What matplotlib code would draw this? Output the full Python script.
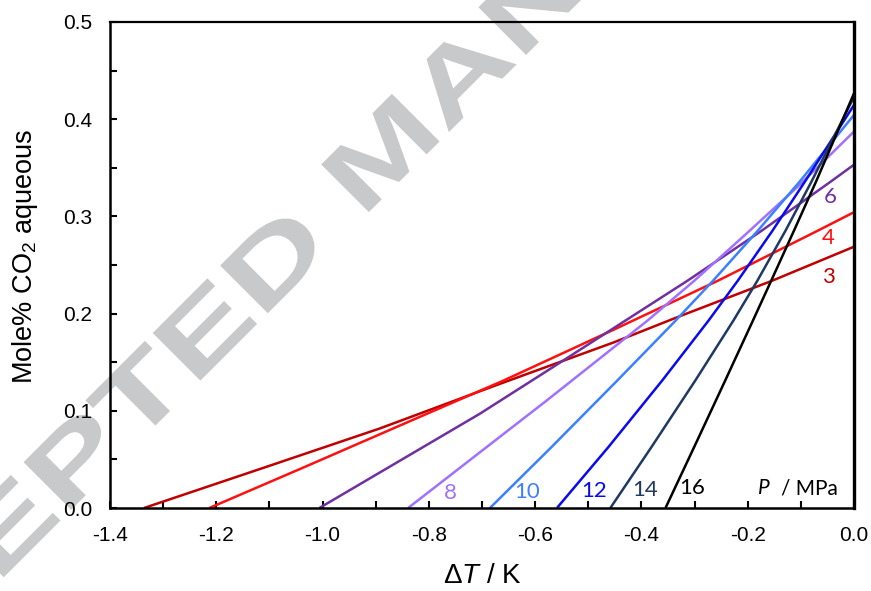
import matplotlib
matplotlib.use("Agg")
import matplotlib.pyplot as plt
from matplotlib.ticker import MultipleLocator, FormatStrFormatter
from matplotlib.patheffects import AbstractPathEffect
from matplotlib.transforms import Affine2D

plt.rcParams['font.family'] = ['Liberation Sans', 'DejaVu Sans']
plt.rcParams['axes.unicode_minus'] = False
plt.rcParams['mathtext.fontset'] = 'custom'
plt.rcParams['mathtext.rm'] = 'Liberation Sans'
plt.rcParams['mathtext.it'] = 'Liberation Sans:italic'


class HStretch(AbstractPathEffect):
    """Draw text glyphs stretched along their baseline (wide watermark lettering)."""
    def __init__(self, sx):
        super().__init__()
        self.sx = sx

    def draw_path(self, renderer, gc, tpath, affine, rgbFace=None):
        renderer.draw_path(gc, tpath, Affine2D().scale(self.sx, 1.0) + affine, rgbFace)


# ---- data ----
pressures = ["3", "4", "6", "8", "10", "12", "14", "16"]

x3 = [-1.336, -1.106, -0.893, -0.666, -0.452, -0.326, -0.155, 0.0]
y3 = [0.0, 0.0423, 0.0817, 0.1278, 0.1704, 0.1977, 0.2336, 0.2688]

x4 = [-1.213, -1.043, -0.792, -0.660, -0.452, -0.257, -0.070, 0.0]
y4 = [0.0, 0.040, 0.0997, 0.131, 0.1835, 0.2336, 0.2848, 0.3043]

x6 = [-1.006, -0.704, -0.572, -0.314, -0.175, -0.043, 0.0]
y6 = [0.0, 0.097, 0.143, 0.2336, 0.2848, 0.3361, 0.3532]

x8 = [-0.839, -0.691, -0.578, -0.389, -0.301, -0.209, -0.105, 0.0]
y8 = [0.0, 0.0628, 0.1107, 0.1926, 0.2336, 0.279, 0.331, 0.3873]

x10 = [-0.685, -0.569, -0.4455, -0.336, -0.2656, -0.1818, -0.1018, 0.0]
y10 = [0.0, 0.0628, 0.1311, 0.1926, 0.2336, 0.2848, 0.3361, 0.4044]

x12 = [-0.559, -0.462, -0.361, -0.274, -0.219, -0.154, -0.092, 0.0]
y12 = [0.0, 0.0628, 0.1311, 0.1926, 0.2336, 0.2848, 0.3361, 0.4146]

x14 = [-0.4585, -0.381, -0.2987, -0.2272, -0.1821, -0.1294, -0.0797, 0.0]
y14 = [0.0, 0.0628, 0.1311, 0.1926, 0.2336, 0.2848, 0.3361, 0.423]

x16 = [-0.3547, -0.3007, -0.2424, -0.1904, -0.156, -0.1134, -0.0712, 0.0]
y16 = [0.0, 0.0628, 0.1311, 0.1926, 0.2336, 0.2848, 0.3361, 0.4266]

series_x = [x3, x4, x6, x8, x10, x12, x14, x16]
series_y = [y3, y4, y6, y8, y10, y12, y14, y16]
colors = ["#C00000", "#FF1010", "#7030A0", "#A070FF", "#3A80FF", "#0A0AF0", "#1F3864", "#000000"]

# label anchor positions (data coords)
label_x = [-0.048, -0.048, -0.044, -0.759, -0.615, -0.489, -0.394, -0.304]
label_y = [0.238, 0.2775, 0.320, 0.0150, 0.0168, 0.0178, 0.0185, 0.0203]

fig = plt.figure(figsize=(8.71, 5.91), dpi=100)

# watermark behind the axes (starts off-canvas at lower left)
wm = fig.text(-222 / 871, 1 - 803 / 591, "ACCEPTED MANUSCRIPT", rotation=45,
              rotation_mode='anchor', ha='left', va='baseline', fontsize=70.5,
              fontweight='bold', color='#c8c9cb', family='Liberation Sans', zorder=-1)
wm.set_path_effects([HStretch(1.46)])

ax = fig.add_axes([110 / 871, 1 - 508 / 591, (854 - 110) / 871, (508 - 22) / 591])
ax.set_facecolor('none')

for xs, ys, c in zip(series_x, series_y, colors):
    ax.plot(xs, ys, color=c, lw=1.8, solid_capstyle='butt', solid_joinstyle='round')

for lab, lx, ly, c in zip(pressures, label_x, label_y, colors):
    ax.text(lx, ly, lab, color=c, fontsize=16, family='Lato', ha='center', va='center')

ax.text(-0.169, 0.0203, "P", style='italic', fontsize=15, family='Lato', ha='center', va='center', color='black')
ax.text(-0.083, 0.0203, "/ MPa", fontsize=15, family='Lato', ha='center', va='center', color='black')

ax.set_xlim(-1.4, 0.0)
ax.set_ylim(0.0, 0.5)
ax.xaxis.set_major_locator(MultipleLocator(0.2))
ax.xaxis.set_minor_locator(MultipleLocator(0.1))
ax.yaxis.set_major_locator(MultipleLocator(0.1))
ax.yaxis.set_minor_locator(MultipleLocator(0.05))
ax.xaxis.set_major_formatter(FormatStrFormatter('%.1f'))
ax.yaxis.set_major_formatter(FormatStrFormatter('%.1f'))

ax.tick_params(axis='both', which='both', direction='in', top=False, right=False,
               width=1.5, length=5, labelsize=15, pad=13)

for s in ['left', 'bottom']:
    ax.spines[s].set_linewidth(1.8)
ax.spines['top'].set_linewidth(1.6)
ax.spines['right'].set_linewidth(2.4)

ax.set_xlabel(r'$\mathit{\Delta T}$ / K', fontsize=20, labelpad=13)
ax.set_ylabel(r'Mole% CO$_2$ aqueous', fontsize=19.5)
ax.yaxis.set_label_coords(-0.094, 0.518)

fig.savefig("out.png", dpi=100)
